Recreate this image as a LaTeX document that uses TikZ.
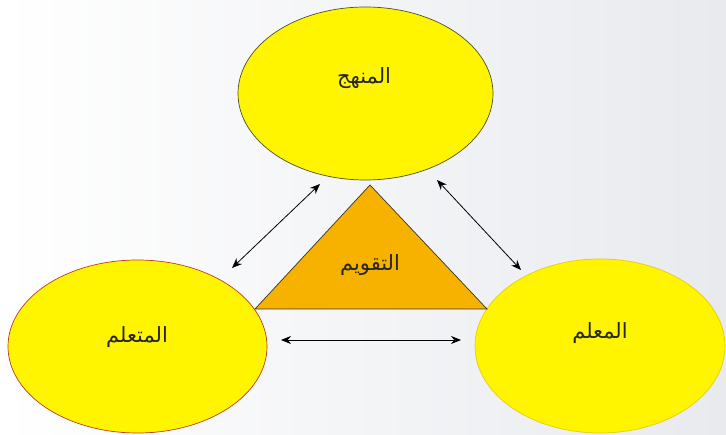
\documentclass[tikz,border=0pt]{standalone}
\usepackage{fontspec}
\newfontfamily\arabicfont[Script=Arabic]{DejaVu Sans}
\TeXXeTstate=1
\usetikzlibrary{arrows.meta}
\definecolor{bgr}{RGB}{232,234,238}
\definecolor{ylw}{RGB}{255,245,0}
\definecolor{tri}{RGB}{247,178,0}
\definecolor{olive}{RGB}{80,80,40}
\definecolor{redline}{RGB}{190,60,30}
\definecolor{goldline}{RGB}{230,205,0}
\begin{document}
\begin{tikzpicture}[x=1pt,y=1pt,
  lbl/.style={font=\arabicfont\fontsize{21}{25}\selectfont, text=black!85},
  link/.style={{Stealth[length=10pt,width=8pt]}-{Stealth[length=10pt,width=8pt]}, line width=0.8pt, black}]
\shade[left color=white, right color=bgr] (0,0) rectangle (726,434);
\useasboundingbox (0,0) rectangle (726,434);
\draw[fill=ylw, draw=olive, line width=0.7pt] (365.5,340.5) ellipse [x radius=127.5, y radius=86.5];
\draw[fill=ylw, draw=redline, line width=0.7pt] (137.5,87.5) ellipse [x radius=129.5, y radius=86.5];
\draw[fill=ylw, draw=goldline, line width=0.7pt] (600,88) ellipse [x radius=125, y radius=87];
\draw[fill=tri, draw=black!80, line width=0.7pt] (370,249) -- (255,125) -- (487,125) -- cycle;
\node[lbl] (manhaj) at (364,356) {\beginR المنهج\endR};
\node[lbl] (mutaallim) at (137,97) {\beginR المتعلم\endR};
\node[lbl] (muallim) at (600,101) {\beginR المعلم\endR};
\node[lbl] (taqwim) at (370,169) {\beginR التقويم\endR};
\coordinate (a1) at (232,166);
\coordinate (a2) at (320,250);
\coordinate (b1) at (437,254);
\coordinate (b2) at (521,164);
\coordinate (c1) at (281,94);
\coordinate (c2) at (461,94);
\draw[link] (a1) -- (a2);
\draw[link] (b1) -- (b2);
\draw[link] (c1) -- (c2);
\end{tikzpicture}
\end{document}
